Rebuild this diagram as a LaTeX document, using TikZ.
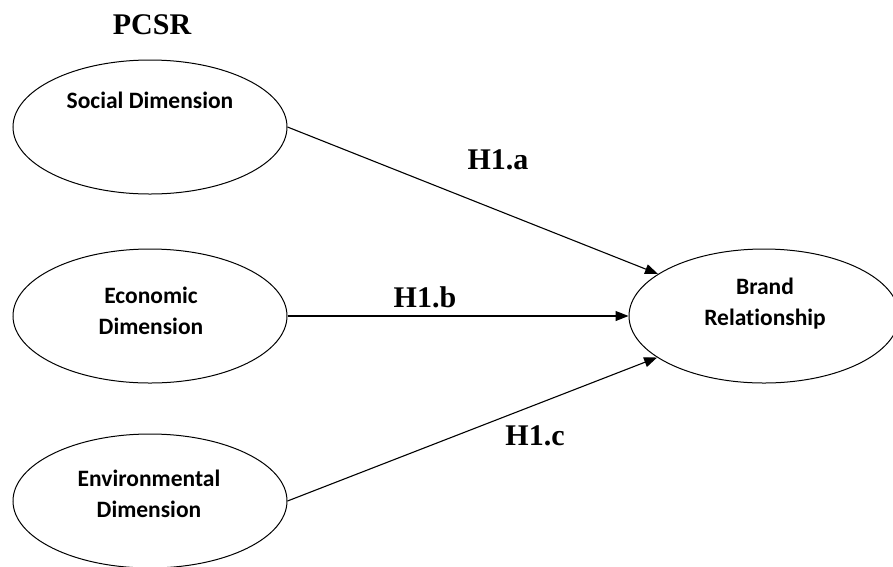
\documentclass[tikz,border=0pt]{standalone}
\usepackage{fontspec}
\setmainfont{Liberation Serif}
\newfontfamily\dimfont[Ligatures=NoCommon]{Carlito}
\usetikzlibrary{shapes.geometric,arrows.meta}

\begin{document}
\begin{tikzpicture}[
            x = 1pt, y = -1pt,
            every node/.style={text depth=0pt},
            dim/.style={draw, ellipse, line width=1pt, minimum width=274pt, minimum height=134pt, inner sep=0pt},
            dimtext/.style={font=\dimfont\bfseries\fontsize{23.5}{31}\selectfont, align=center},
            hyp/.style={font=\bfseries\fontsize{30}{34}\selectfont},
            line/.style={line width=1.1pt, -{Triangle[length=13pt,width=10pt]}},
            ]
        \useasboundingbox (0,0) rectangle (893,566);

        \node[hyp] (pcsr) at (152,25) {PCSR};

        \node[dim] (soc) at (150,127) {};
        \node[dim] (eco) at (150,316) {};
        \node[dim] (env) at (150,501) {};
        \node[dim, minimum width=270pt] (brand) at (764,316) {};

        \node[dimtext] (soctext) at (150,100) {Social Dimension};
        \node[dimtext] (ecotext) at (151,311) {Economic\\Dimension};
        \node[dimtext] (envtext) at (149,494) {Environmental\\Dimension};
        \node[dimtext] (brandtext) at (765,302) {Brand\\Relationship};

        \draw[line] (soc.east) -- (brand);
        \draw[line] (eco.east) -- (brand.west);
        \draw[line] (env.east) -- (brand);

        \node[hyp] (h1a) at (498,160) {H1.a};
        \node[hyp] (h1b) at (425,297) {H1.b};
        \node[hyp] (h1c) at (535,436) {H1.c};
    \end{tikzpicture}
\end{document}
